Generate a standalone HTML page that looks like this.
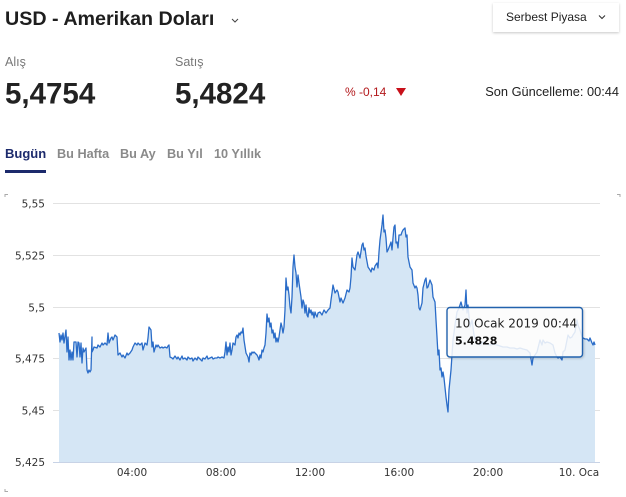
<!DOCTYPE html>
<html>
<head>
<meta charset="utf-8">
<style>
  html, body { margin:0; padding:0; background:#fff; }
  body { width:626px; height:497px; overflow:hidden; position:relative; }
  svg { position:absolute; left:0; top:0; }
  .sans { font-family:"Liberation Sans", Arial, sans-serif; }
  .axis { font-family:"DejaVu Sans", "Liberation Sans", sans-serif; font-size:10.5px; fill:#333; }
</style>
</head>
<body>
<svg width="626" height="497" viewBox="0 0 626 497" xmlns="http://www.w3.org/2000/svg">
  <defs>
    <filter id="sh" x="-10%" y="-20%" width="120%" height="150%">
      <feDropShadow dx="0" dy="1" stdDeviation="1.2" flood-color="#000" flood-opacity="0.22"/>
    </filter>
    <filter id="sh2" x="-10%" y="-20%" width="125%" height="150%">
      <feDropShadow dx="1" dy="1" stdDeviation="1" flood-color="#000" flood-opacity="0.18"/>
    </filter>
  </defs>

  <!-- Header -->
  <text x="5" y="25" class="sans" font-size="19.7" font-weight="bold" fill="#1e1e1e">USD - Amerikan Doları</text>
  <polyline points="232,19 235,22 238,19" fill="none" stroke="#444" stroke-width="1"/>

  <rect x="493" y="3" width="126" height="29" fill="#fff" filter="url(#sh)"/>
  <text x="506" y="21" class="sans" font-size="12" fill="#222">Serbest Piyasa</text>
  <polyline points="599,15.5 602,18.5 605,15.5" fill="none" stroke="#333" stroke-width="1.1"/>

  <text x="5" y="66" class="sans" font-size="12.5" fill="#777">Alış</text>
  <text x="175" y="66" class="sans" font-size="12.5" fill="#777">Satış</text>
  <text x="5" y="103.5" class="sans" font-size="29.5" font-weight="bold" fill="#222">5,4754</text>
  <text x="175" y="103.5" class="sans" font-size="29.5" font-weight="bold" fill="#222">5,4824</text>

  <text x="345" y="96" class="sans" font-size="12" fill="#b3191c">% -0,14</text>
  <polygon points="396,88 406,88 401,96" fill="#c8101a"/>
  <text x="619" y="96" class="sans" font-size="12.8" fill="#222" text-anchor="end">Son Güncelleme: 00:44</text>

  <!-- Tabs -->
  <text x="5" y="158" class="sans" font-size="13" font-weight="bold" fill="#1c2a6c">Bugün</text>
  <text x="57" y="158" class="sans" font-size="12.7" font-weight="bold" fill="#8a8a8a">Bu Hafta</text>
  <text x="120" y="158" class="sans" font-size="12.7" font-weight="bold" fill="#8a8a8a">Bu Ay</text>
  <text x="167" y="158" class="sans" font-size="12.7" font-weight="bold" fill="#8a8a8a">Bu Yıl</text>
  <text x="214" y="158" class="sans" font-size="12.7" font-weight="bold" fill="#8a8a8a">10 Yıllık</text>
  <rect x="5" y="170" width="41" height="3" fill="#1c2a6c"/>

  <!-- corner marks -->
  <path d="M5,197 V194.5 H8" fill="none" stroke="#aaa" stroke-width="1"/>
  <path d="M5,489 V491.5 H8" fill="none" stroke="#aaa" stroke-width="1"/>
  <path d="M617,194.5 H620 V197" fill="none" stroke="#aaa" stroke-width="1"/>

  <!-- Gridlines -->
  <g stroke="#e2e2e2" stroke-width="1">
    <line x1="53" y1="203.5" x2="600" y2="203.5"/>
    <line x1="53" y1="255.5" x2="600" y2="255.5"/>
    <line x1="53" y1="307.5" x2="600" y2="307.5"/>
    <line x1="53" y1="358.5" x2="600" y2="358.5"/>
    <line x1="53" y1="410.5" x2="600" y2="410.5"/>
  </g>

  <!-- Area fill -->
  <path fill="#d5e6f5" d="M59,333 L60,342 61,335 62,340 63,333 64,343 66,330 67,352 68,337 69,360 70,350 71,360 72,352 73,360 74,342 76,342 77,357 78,342 79,343 80,357 81,343 82,363 83,348 84,352 86,348 87,370 88,373 89,370 90,372 91,370 92,337 92,352 93,350 94,347 97,348 98,345 100,347 102,343 103,345 105,343 107,345 108,333 109,343 111,338 112,337 113,340 115,335 117,337 118,355 120,353 122,357 123,355 125,358 127,353 128,355 130,353 132,350 133,347 135,343 137,345 138,343 140,345 142,343 143,350 145,343 147,345 148,338 149,327 151,330 152,347 153,342 154,352 156,345 157,347 158,345 160,348 162,347 163,348 165,347 167,348 168,346 169,345 170,357 172,358 173,359 175,356 177,359 178,357 180,360 182,356 183,359 185,358 187,360 188,357 190,359 192,358 193,361 195,358 197,360 198,357 200,359 202,361 203,358 205,359 207,356 208,359 210,358 212,357 213,359 215,358 217,358 218,357 220,358 222,357 224,358 225,352 226,342 227,355 228,347 229,352 230,343 231,355 232,350 233,343 235,345 236,337 237,335 238,338 239,333 240,335 241,332 242,333 243,328 244,340 246,353 247,355 248,357 249,362 250,353 251,355 252,352 253,353 254,352 255,353 256,354 257,355 258,357 259,360 260,355 261,358 262,350 263,352 264,348 265,345 266,333 267,314 268,322 269,318 270,327 271,323 272,333 273,330 274,338 275,333 276,342 277,338 278,342 279,337 280,330 281,323 282,327 283,333 284,327 285,310 286,278 287,290 288,287 289,295 290,307 291,313 292,297 293,267 294,255 295,267 296,273 297,287 298,275 299,283 300,290 301,297 302,308 303,300 304,303 305,313 306,305 307,315 308,317 309,308 310,313 311,310 312,315 313,312 314,318 315,312 316,315 317,317 318,313 320,312 322,315 324,310 326,313 328,310 330,308 331,300 332,293 333,285 335,293 337,290 338,292 340,302 341,298 343,303 345,298 347,290 349,292 350,288 351,277 352,258 353,267 355,270 357,255 358,252 360,258 362,245 363,243 364,250 365,248 366,256 368,267 370,270 371,272 372,268 374,270 375,266 377,263 378,268 379,252 380,240 382,225 383,215 384,232 385,230 386,238 387,252 388,250 390,245 391,242 392,250 393,238 394,227 395,225 396,243 397,242 398,248 399,235 401,235 402,232 403,230 405,228 406,237 407,235 408,257 410,267 412,270 413,283 415,288 416,286 417,288 418,295 419,308 420,310 422,303 423,288 425,280 426,278 427,288 428,287 430,280 432,285 433,297 435,302 436,320 437,337 438,355 439,350 440,370 441,368 442,377 443,372 444,378 446,397 447,405 448,412 449,390 450,380 451,370 452,355 453,340 455,325 457,312 459,308 461,302 463,310 465,305 466,290 467,313 468,305 470,327 472,320 474,335 477,343 480,345 483,342 487,344 490,345 494,344 497,345 500,346 503,347 507,347 510,348 514,348 517,349 520,348 523,349 527,350 530,353 532,365 533,358 535,355 537,352 538,348 540,340 542,345 543,340 545,343 547,342 550,343 553,345 555,353 557,357 558,358 560,357 562,360 563,352 565,350 567,340 568,335 570,338 572,337 573,335 575,332 577,320 578,325 580,330 582,337 583,338 585,339 587,339 589,341 590,338 592,343 593,345 594,342 595,345 L595,462 L59,462 Z"/>

  <!-- Line -->
  <path fill="none" stroke="#2a6cc8" stroke-width="1.3" stroke-linejoin="round" d="M59,333 L60,342 61,335 62,340 63,333 64,343 66,330 67,352 68,337 69,360 70,350 71,360 72,352 73,360 74,342 76,342 77,357 78,342 79,343 80,357 81,343 82,363 83,348 84,352 86,348 87,370 88,373 89,370 90,372 91,370 92,337 92,352 93,350 94,347 97,348 98,345 100,347 102,343 103,345 105,343 107,345 108,333 109,343 111,338 112,337 113,340 115,335 117,337 118,355 120,353 122,357 123,355 125,358 127,353 128,355 130,353 132,350 133,347 135,343 137,345 138,343 140,345 142,343 143,350 145,343 147,345 148,338 149,327 151,330 152,347 153,342 154,352 156,345 157,347 158,345 160,348 162,347 163,348 165,347 167,348 168,346 169,345 170,357 172,358 173,359 175,356 177,359 178,357 180,360 182,356 183,359 185,358 187,360 188,357 190,359 192,358 193,361 195,358 197,360 198,357 200,359 202,361 203,358 205,359 207,356 208,359 210,358 212,357 213,359 215,358 217,358 218,357 220,358 222,357 224,358 225,352 226,342 227,355 228,347 229,352 230,343 231,355 232,350 233,343 235,345 236,337 237,335 238,338 239,333 240,335 241,332 242,333 243,328 244,340 246,353 247,355 248,357 249,362 250,353 251,355 252,352 253,353 254,352 255,353 256,354 257,355 258,357 259,360 260,355 261,358 262,350 263,352 264,348 265,345 266,333 267,314 268,322 269,318 270,327 271,323 272,333 273,330 274,338 275,333 276,342 277,338 278,342 279,337 280,330 281,323 282,327 283,333 284,327 285,310 286,278 287,290 288,287 289,295 290,307 291,313 292,297 293,267 294,255 295,267 296,273 297,287 298,275 299,283 300,290 301,297 302,308 303,300 304,303 305,313 306,305 307,315 308,317 309,308 310,313 311,310 312,315 313,312 314,318 315,312 316,315 317,317 318,313 320,312 322,315 324,310 326,313 328,310 330,308 331,300 332,293 333,285 335,293 337,290 338,292 340,302 341,298 343,303 345,298 347,290 349,292 350,288 351,277 352,258 353,267 355,270 357,255 358,252 360,258 362,245 363,243 364,250 365,248 366,256 368,267 370,270 371,272 372,268 374,270 375,266 377,263 378,268 379,252 380,240 382,225 383,215 384,232 385,230 386,238 387,252 388,250 390,245 391,242 392,250 393,238 394,227 395,225 396,243 397,242 398,248 399,235 401,235 402,232 403,230 405,228 406,237 407,235 408,257 410,267 412,270 413,283 415,288 416,286 417,288 418,295 419,308 420,310 422,303 423,288 425,280 426,278 427,288 428,287 430,280 432,285 433,297 435,302 436,320 437,337 438,355 439,350 440,370 441,368 442,377 443,372 444,378 446,397 447,405 448,412 449,390 450,380 451,370 452,355 453,340 455,325 457,312 459,308 461,302 463,310 465,305 466,290 467,313 468,305 470,327 472,320 474,335 477,343 480,345 483,342 487,344 490,345 494,344 497,345 500,346 503,347 507,347 510,348 514,348 517,349 520,348 523,349 527,350 530,353 532,365 533,358 535,355 537,352 538,348 540,340 542,345 543,340 545,343 547,342 550,343 553,345 555,353 557,357 558,358 560,357 562,360 563,352 565,350 567,340 568,335 570,338 572,337 573,335 575,332 577,320 578,325 580,330 582,337 583,338 585,339 587,339 589,341 590,338 592,343 593,345 594,342 595,345"/>

  <!-- bottom axis line -->
  <line x1="53" y1="462.5" x2="600" y2="462.5" stroke="#c8d3e6" stroke-width="1"/>

  <!-- Y labels -->
  <g class="axis" text-anchor="end">
    <text x="45" y="207.5">5,55</text>
    <text x="45" y="259.5">5,525</text>
    <text x="45" y="311.5">5,5</text>
    <text x="45" y="362.5">5,475</text>
    <text x="45" y="414.5">5,45</text>
    <text x="45" y="466">5,425</text>
  </g>

  <!-- X labels -->
  <g class="axis" text-anchor="middle">
    <text x="132" y="476">04:00</text>
    <text x="221" y="476">08:00</text>
    <text x="310" y="476">12:00</text>
    <text x="399" y="476">16:00</text>
    <text x="488" y="476">20:00</text>
    <text x="579" y="476">10. Oca</text>
  </g>

  <!-- Tooltip -->
  <rect x="447" y="307.5" width="135.5" height="49.5" rx="3" ry="3" fill="rgba(255,255,255,0.84)" stroke="#2262ad" stroke-width="1.4" filter="url(#sh2)"/>
  <text x="455" y="327.5" font-family="DejaVu Sans, Liberation Sans, sans-serif" font-size="12" fill="#222">10 Ocak 2019 00:44</text>
  <text x="455" y="344.5" font-family="DejaVu Sans, Liberation Sans, sans-serif" font-size="11" font-weight="bold" fill="#111">5.4828</text>
</svg>
</body>
</html>
